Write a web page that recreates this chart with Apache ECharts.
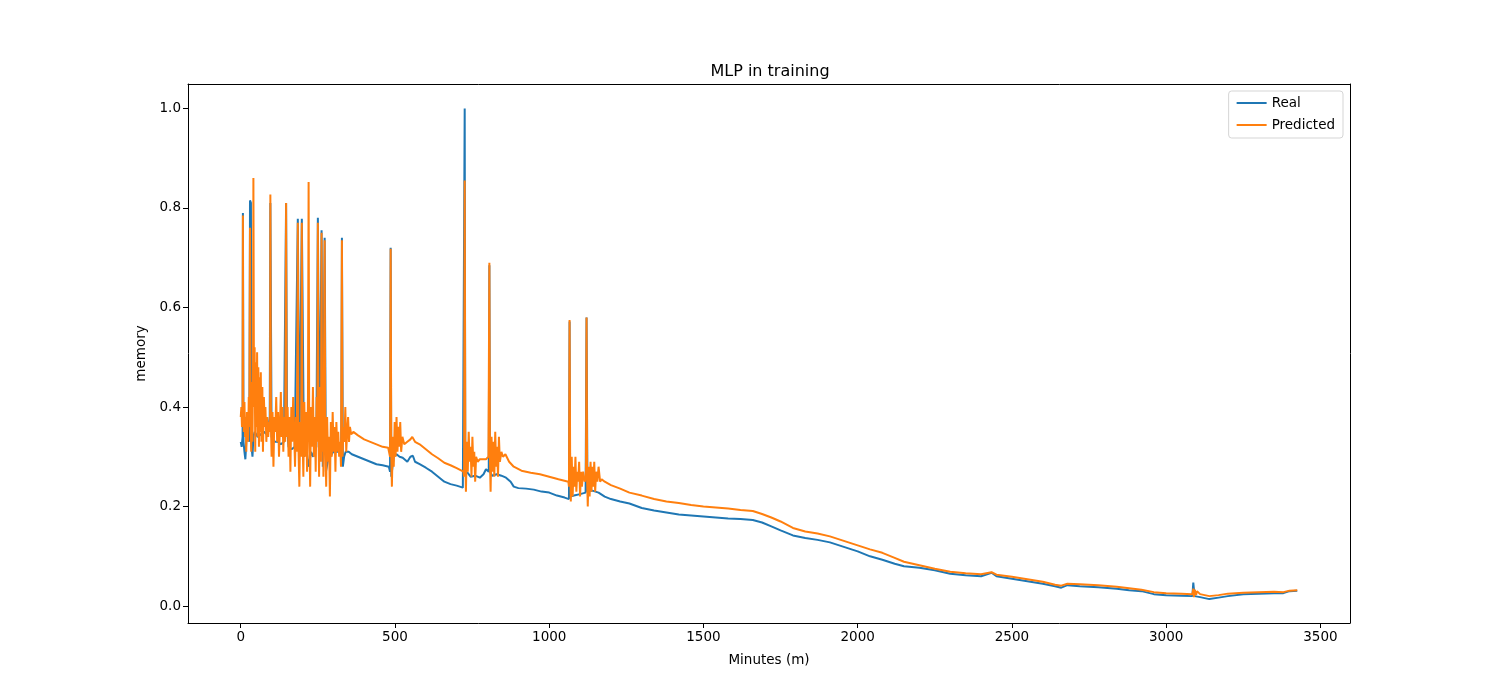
<!DOCTYPE html>
<html>
<head>
<meta charset="utf-8">
<title>MLP in training</title>
<script src="https://cdn.jsdelivr.net/npm/echarts@6/dist/echarts.min.js"></script>
<style>
html,body{margin:0;padding:0;background:#fff;}
#chart{width:1500px;height:700px;}
</style>
</head>
<body>
<div id="chart"></div>
<script>
/*----------data----------*/
var xTicks=[0,500,1000,1500,2000,2500,3000,3500];
var yTicks=[0,0.2,0.4,0.6,0.8,1.0];

var realX=[0,3,6,7,9,12,15,18,22,25,28,30,33,35,38,41,45,55,65,75,85,90,94,96,100,110,120,130,140,147,150,155,165,175,185,190,198,205,212,220,228,235,245,250,255,262,266,272,276,282,290,300,310,320,326,328,331,335,340,350,360,380,400,420,440,460,480,484,486,488,492,496,505,515,525,540,550,558,565,580,600,620,640,660,680,700,720,724,726,728,735,745,760,775,787,795,800,804,806,808,815,830,845,860,875,885,900,925,950,975,1000,1025,1050,1064,1066,1068,1080,1100,1118,1121,1124,1140,1160,1180,1200,1230,1260,1300,1340,1380,1420,1460,1500,1540,1580,1620,1660,1690,1720,1750,1790,1830,1870,1910,1950,1975,2000,2040,2080,2120,2150,2200,2250,2300,2350,2400,2434,2450,2500,2550,2600,2640,2660,2680,2720,2780,2840,2880,2920,2960,3000,3050,3085,3088,3092,3110,3140,3170,3200,3250,3300,3350,3380,3400,3425];
var realY=[0.33,0.32,0.34,0.79,0.33,0.31,0.295,0.33,0.34,0.35,0.33,0.815,0.81,0.32,0.30,0.34,0.35,0.34,0.345,0.35,0.345,0.36,0.38,0.81,0.34,0.33,0.33,0.325,0.33,0.81,0.36,0.32,0.315,0.32,0.778,0.31,0.778,0.30,0.32,0.28,0.31,0.30,0.32,0.78,0.30,0.755,0.28,0.74,0.27,0.29,0.30,0.31,0.31,0.31,0.30,0.74,0.28,0.30,0.31,0.31,0.305,0.30,0.295,0.29,0.285,0.283,0.28,0.27,0.72,0.26,0.28,0.30,0.305,0.30,0.298,0.29,0.30,0.302,0.29,0.285,0.278,0.27,0.26,0.25,0.245,0.242,0.238,0.24,1.0,0.27,0.268,0.26,0.262,0.258,0.265,0.275,0.278,0.27,0.685,0.27,0.262,0.265,0.262,0.258,0.25,0.24,0.237,0.236,0.234,0.23,0.228,0.222,0.218,0.215,0.572,0.22,0.222,0.225,0.228,0.58,0.23,0.232,0.228,0.22,0.215,0.21,0.206,0.197,0.192,0.188,0.184,0.182,0.18,0.178,0.176,0.175,0.173,0.168,0.16,0.152,0.142,0.137,0.133,0.128,0.12,0.115,0.11,0.1,0.093,0.085,0.08,0.077,0.072,0.065,0.062,0.06,0.067,0.06,0.055,0.05,0.045,0.04,0.037,0.042,0.04,0.038,0.035,0.032,0.03,0.024,0.022,0.021,0.02,0.047,0.02,0.018,0.014,0.017,0.02,0.024,0.025,0.026,0.026,0.03,0.031];

var predX=[0,2,4,6,7,8,10,12,14,16,18,20,22,24,26,28,30,32,34,36,38,40,41,43,45,47,49,51,53,55,57,59,61,63,65,67,70,72,75,78,80,83,86,89,92,95,96,98,100,103,106,109,112,115,118,121,124,127,130,132,135,138,141,144,147,149,152,155,158,161,164,167,170,173,176,179,182,185,187,190,193,196,198,200,203,206,209,212,215,218,220,222,225,228,231,234,237,240,243,246,248,250,252,254,257,260,262,264,266,268,272,274,277,280,283,286,289,292,295,298,301,304,307,310,313,316,319,322,325,328,330,333,336,339,342,345,348,351,354,358,365,380,400,420,440,460,478,484,486,488,490,493,496,499,502,505,508,511,514,517,520,524,530,540,550,556,565,580,600,620,640,660,680,700,722,724,726,728,730,733,736,739,742,745,748,751,754,757,760,763,768,775,785,795,803,806,808,810,813,816,819,822,825,828,831,834,837,840,845,850,858,870,885,910,940,970,1000,1030,1062,1064,1066,1068,1070,1073,1076,1079,1082,1085,1088,1091,1094,1097,1100,1103,1106,1110,1115,1119,1121,1123,1125,1128,1131,1134,1137,1140,1143,1146,1149,1152,1156,1160,1165,1170,1180,1200,1230,1260,1300,1340,1380,1420,1460,1500,1540,1580,1620,1660,1690,1720,1750,1790,1830,1870,1910,1950,1975,2000,2040,2080,2120,2150,2200,2250,2300,2350,2400,2434,2450,2500,2550,2600,2640,2660,2680,2720,2780,2840,2880,2920,2960,3000,3050,3085,3088,3090,3093,3097,3100,3110,3140,3170,3200,3250,3300,3350,3380,3400,3425];
var predY=[0.38,0.40,0.36,0.39,0.785,0.40,0.35,0.41,0.34,0.38,0.31,0.39,0.37,0.33,0.42,0.36,0.76,0.38,0.31,0.45,0.33,0.50,0.86,0.40,0.52,0.31,0.49,0.36,0.51,0.34,0.48,0.32,0.46,0.35,0.47,0.33,0.44,0.31,0.42,0.36,0.40,0.33,0.38,0.34,0.37,0.35,0.827,0.36,0.30,0.39,0.28,0.38,0.35,0.42,0.33,0.39,0.30,0.36,0.43,0.34,0.40,0.31,0.38,0.33,0.81,0.34,0.40,0.30,0.38,0.27,0.40,0.33,0.42,0.35,0.28,0.38,0.31,0.77,0.32,0.24,0.37,0.30,0.77,0.35,0.26,0.41,0.30,0.39,0.27,0.42,0.852,0.36,0.24,0.40,0.32,0.44,0.30,0.38,0.27,0.42,0.33,0.77,0.35,0.26,0.44,0.29,0.75,0.31,0.40,0.26,0.735,0.33,0.24,0.38,0.29,0.34,0.22,0.37,0.30,0.39,0.31,0.36,0.27,0.37,0.31,0.35,0.30,0.33,0.28,0.735,0.30,0.36,0.33,0.40,0.31,0.35,0.38,0.33,0.36,0.345,0.35,0.343,0.335,0.33,0.325,0.32,0.318,0.30,0.718,0.30,0.24,0.34,0.28,0.37,0.30,0.38,0.31,0.36,0.32,0.37,0.31,0.34,0.325,0.33,0.335,0.34,0.33,0.325,0.315,0.305,0.297,0.288,0.283,0.277,0.27,0.26,0.855,0.30,0.23,0.33,0.27,0.35,0.29,0.32,0.26,0.34,0.28,0.31,0.25,0.30,0.29,0.295,0.295,0.295,0.30,0.69,0.29,0.23,0.34,0.27,0.33,0.26,0.35,0.28,0.32,0.26,0.34,0.29,0.31,0.30,0.305,0.29,0.28,0.272,0.268,0.265,0.26,0.255,0.25,0.24,0.575,0.28,0.21,0.30,0.22,0.28,0.24,0.30,0.23,0.27,0.25,0.29,0.22,0.27,0.24,0.27,0.25,0.26,0.58,0.25,0.20,0.28,0.22,0.29,0.23,0.28,0.24,0.29,0.23,0.27,0.25,0.28,0.25,0.255,0.25,0.243,0.236,0.228,0.222,0.215,0.21,0.207,0.203,0.2,0.198,0.196,0.193,0.191,0.185,0.178,0.17,0.157,0.15,0.146,0.14,0.132,0.127,0.122,0.114,0.107,0.097,0.089,0.082,0.075,0.069,0.066,0.064,0.068,0.063,0.059,0.054,0.049,0.043,0.041,0.045,0.044,0.042,0.039,0.036,0.033,0.028,0.026,0.025,0.024,0.035,0.018,0.033,0.022,0.03,0.024,0.02,0.022,0.025,0.027,0.028,0.029,0.028,0.031,0.032];

/*----------chart----------*/
function pairs(xs,ys){
	var out=[];
	for(var i=0;i<xs.length;i++){
		out.push([xs[i],ys[i]]);
	}
	return out;
}
var chart=echarts.init(document.getElementById("chart"));
var font="DejaVu Sans";
var frame={show:true,onZero:false,lineStyle:{color:"#000",width:1}};
var option={
	animation:false,
	backgroundColor:"#fff",
	textStyle:{fontFamily:font},
	title:{
		text:"MLP in training",
		left:765,
		textAlign:"center",
		top:59,
		textStyle:{fontFamily:font,fontSize:16,fontWeight:"normal",color:"#000"}
	},
	legend:{
		orient:"vertical",
		right:157,
		top:91,
		padding:[5,8,6,8],
		itemGap:8,
		itemWidth:30,
		itemHeight:2,
		icon:"rect",
		borderColor:"#d5d5d5",
		borderWidth:1,
		borderRadius:3,
		backgroundColor:"#fff",
		textStyle:{fontFamily:font,fontSize:13.5,color:"#000"},
		data:["Real","Predicted"]
	},
	grid:{left:188,right:150,top:84,bottom:77,containLabel:false},
	xAxis:[
		{
			type:"value",
			min:-171,
			max:3596,
			name:"Minutes (m)",
			nameLocation:"middle",
			nameGap:30,
			nameTextStyle:{fontFamily:font,fontSize:13.5,color:"#000"},
			axisLine:frame,
			axisTick:{show:true,inside:false,length:5,customValues:xTicks,lineStyle:{color:"#000"}},
			axisLabel:{
				customValues:xTicks,
				fontFamily:font,
				fontSize:13.5,
				color:"#000",
				margin:7,
				formatter:function(v){return String(v);}
			},
			splitLine:{show:false}
		},
		{
			type:"value",
			position:"top",
			min:-171,
			max:3596,
			axisLine:frame,
			axisTick:{show:false},
			axisLabel:{show:false},
			splitLine:{show:false}
		}
	],
	yAxis:[
		{
			type:"value",
			min:-0.034,
			max:1.049,
			name:"memory",
			nameLocation:"middle",
			nameGap:39,
			nameTextStyle:{fontFamily:font,fontSize:13.5,color:"#000"},
			axisLine:frame,
			axisTick:{show:true,inside:false,length:5,customValues:yTicks,lineStyle:{color:"#000"}},
			axisLabel:{
				customValues:yTicks,
				fontFamily:font,
				fontSize:13.5,
				color:"#000",
				margin:7,
				formatter:function(v){return v.toFixed(1);}
			},
			splitLine:{show:false}
		},
		{
			type:"value",
			position:"right",
			min:-0.034,
			max:1.049,
			axisLine:frame,
			axisTick:{show:false},
			axisLabel:{show:false},
			splitLine:{show:false}
		}
	],
	series:[
		{
			type:"line",
			name:"Real",
			data:pairs(realX,realY),
			showSymbol:false,
			symbol:"none",
			sampling:"none",
			lineStyle:{width:2,color:"#1f77b4"},
			itemStyle:{color:"#1f77b4"}
		},
		{
			type:"line",
			name:"Predicted",
			data:pairs(predX,predY),
			showSymbol:false,
			symbol:"none",
			sampling:"none",
			lineStyle:{width:2,color:"#ff7f0e"},
			itemStyle:{color:"#ff7f0e"}
		}
	]
};
chart.setOption(option);
</script>
</body>
</html>
